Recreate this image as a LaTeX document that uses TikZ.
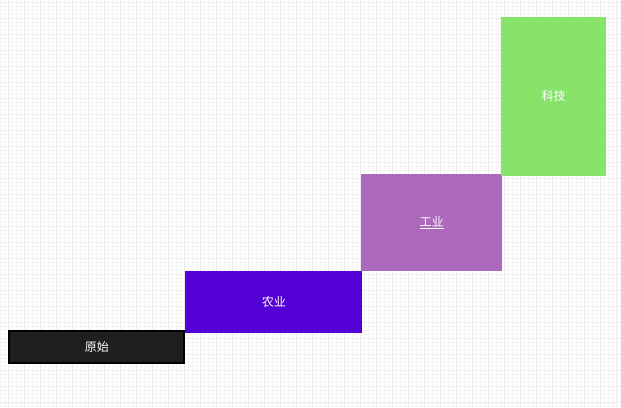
\documentclass[tikz,border=0pt]{standalone}
\usepackage{fontspec}
\newfontfamily\cjk{Noto Sans CJK SC}
\definecolor{minorgrid}{HTML}{F6F6F6}
\definecolor{majorgrid}{HTML}{EAEAEA}
\definecolor{cA}{HTML}{1F1F1F}
\definecolor{cB}{HTML}{5500D5}
\definecolor{cC}{HTML}{AC68BA}
\definecolor{cD}{HTML}{88E36B}
\begin{document}
\begin{tikzpicture}[x=1pt,y=-1pt,
  stepbox/.style={anchor=north west,inner sep=0pt,outer sep=0pt,text=white,font=\cjk\fontsize{12}{14}\selectfont}]
\useasboundingbox (0,0) rectangle (621,407);
\fill[white] (0,0) rectangle (621,407);
\foreach \x in {0.3,4.3,...,621} \draw[minorgrid,line width=0.6pt] (\x,0) -- (\x,407);
\foreach \y in {2.7,6.7,...,407} \draw[minorgrid,line width=0.6pt] (0,\y) -- (621,\y);
\foreach \x in {8.3,24.3,...,621} \draw[majorgrid,line width=0.8pt] (\x,0) -- (\x,407);
\foreach \y in {2.7,18.7,...,407} \draw[majorgrid,line width=0.8pt] (0,\y) -- (621,\y);
\node[stepbox,fill=cA,draw=black,line width=2pt,minimum width=175pt,minimum height=32pt] (yuanshi) at (9.3,331.3) {原始};
\node[stepbox,fill=cB,minimum width=177pt,minimum height=61.5pt] (nongye) at (185.3,271) {农业};
\node[stepbox,fill=cC,minimum width=141pt,minimum height=96.7pt] (gongye) at (361,174) {\underline{工业}};
\node[stepbox,fill=cD,minimum width=105pt,minimum height=159pt] (keji) at (501,16.7) {科技};
\end{tikzpicture}
\end{document}
